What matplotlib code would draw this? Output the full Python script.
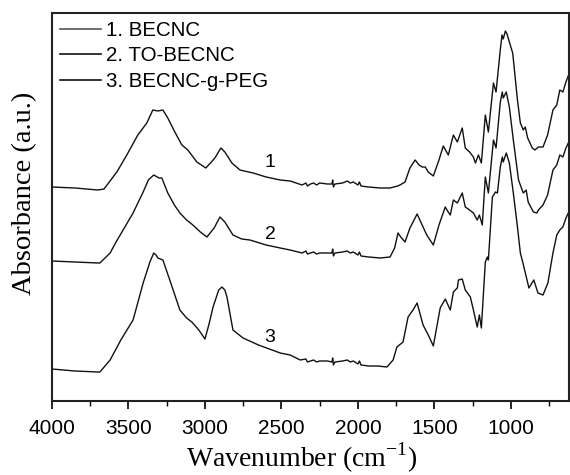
import matplotlib
matplotlib.use("Agg")
import matplotlib.pyplot as plt
from matplotlib.ticker import MultipleLocator

# ---------------- data ----------------
wn1 = [4000, 3850, 3700, 3660, 3576, 3511, 3439, 3380, 3341, 3308, 3275, 3243, 3197, 3151,
       3112, 3053, 2994, 2935, 2896, 2870, 2824, 2771, 2685, 2600, 2508, 2443, 2365, 2340,
       2330, 2310, 2290, 2270, 2250, 2200, 2170, 2165, 2160, 2150, 2100, 2070, 2050, 2030,
       2000, 1990, 1980, 1930, 1855, 1790, 1740, 1725, 1692, 1660, 1626, 1600, 1580, 1560,
       1540, 1507, 1470, 1442, 1420, 1409, 1376, 1350, 1318, 1298, 1270, 1245, 1232, 1212,
       1193, 1167, 1147, 1114, 1097, 1070, 1058, 1050, 1036, 1025, 1014, 988, 957, 938, 919,
       906, 890, 860, 843, 820, 790, 760, 725, 700, 680, 660, 640, 615, 600]
ab1 = [214, 213, 211, 212, 229, 246, 266, 278, 291, 290, 291, 283, 269, 256,
       251, 239, 233, 243, 253, 249, 238, 231, 228, 224, 221, 220, 216, 218,
       215, 217, 218, 216, 218, 217, 217, 221, 214, 217, 218, 220, 218, 219,
       216, 219, 215, 214, 213, 213, 215, 216, 219, 233, 241, 236, 234, 234,
       229, 225, 241, 255, 249, 246, 266, 259, 273, 253, 249, 244, 238, 246,
       238, 286, 269, 318, 309, 350, 366, 362, 370, 367, 361, 348, 301, 278, 271,
       274, 263, 253, 251, 254, 254, 266, 291, 296, 311, 309, 319, 329, 333]

wn2 = [4000, 3850, 3700, 3687, 3620, 3585, 3470, 3404, 3370, 3335, 3300, 3282, 3243, 3200,
       3164, 3120, 3079, 3030, 2987, 2940, 2902, 2870, 2817, 2760, 2706, 2600, 2508, 2443,
       2365, 2340, 2330, 2310, 2290, 2270, 2250, 2200, 2170, 2165, 2160, 2150, 2100, 2070,
       2050, 2030, 2000, 1990, 1980, 1930, 1855, 1790, 1760, 1738, 1720, 1692, 1660, 1613,
       1580, 1550, 1507, 1470, 1429, 1410, 1396, 1376, 1350, 1318, 1298, 1270, 1245, 1220,
       1206, 1187, 1167, 1147, 1114, 1097, 1069, 1056, 1050, 1030, 1010, 984, 950, 919, 900,
       887, 853, 830, 820, 790, 760, 725, 700, 680, 660, 640, 615, 600]
ab2 = [140, 139, 138, 138, 148, 158, 188, 209, 221, 226, 223, 223, 208, 196,
       188, 181, 176, 169, 164, 173, 184, 179, 166, 162, 161, 156, 153, 151,
       148, 150, 147, 148, 149, 147, 148, 148, 148, 152, 145, 148, 149, 150,
       148, 149, 146, 149, 145, 144, 143, 144, 153, 168, 164, 159, 173, 187,
       176, 166, 156, 176, 194, 189, 186, 201, 198, 208, 194, 191, 188, 181,
       186, 176, 224, 208, 261, 253, 299, 309, 303, 309, 294, 261, 221, 208, 211,
       199, 189, 188, 191, 196, 206, 231, 236, 246, 244, 253, 261, 264]

wn3 = [4000, 3850, 3700, 3687, 3620, 3550, 3470, 3404, 3360, 3335, 3320, 3308, 3275, 3230,
       3164, 3120, 3086, 3040, 3000, 2975, 2947, 2910, 2889, 2870, 2856, 2817, 2751, 2650,
       2508, 2443, 2377, 2340, 2330, 2310, 2290, 2270, 2250, 2200, 2170, 2165, 2160, 2150,
       2100, 2070, 2050, 2030, 2000, 1990, 1980, 1930, 1870, 1810, 1770, 1745, 1705, 1672,
       1640, 1613, 1574, 1540, 1507, 1462, 1429, 1396, 1376, 1350, 1343, 1318, 1298, 1265,
       1245, 1220, 1206, 1193, 1167, 1154, 1147, 1121, 1101, 1088, 1069, 1056, 1050, 1030,
       1010, 984, 957, 938, 921, 882, 850, 823, 790, 758, 725, 700, 680, 660, 640, 615, 600]
ab3 = [32, 30, 29, 29, 41, 61, 81, 118, 139, 148, 146, 143, 141, 121,
       91, 83, 79, 71, 62, 76, 94, 111, 114, 111, 104, 71, 63, 56,
       48, 46, 41, 42, 39, 40, 41, 39, 40, 40, 39, 43, 36, 39,
       40, 41, 39, 40, 37, 40, 36, 35, 35, 34, 41, 54, 59, 84,
       91, 98, 76, 66, 55, 93, 102, 91, 109, 113, 121, 122, 111, 104,
       91, 74, 86, 73, 139, 144, 141, 204, 209, 208, 234, 244, 239, 248,
       238, 208, 174, 148, 138, 113, 121, 108, 106, 118, 148, 166, 171, 174, 183, 191, 196]

series_labels = ["1. BECNC", "2. TO-BECNC", "3. BECNC-g-PEG"]
curve_tags = ["1", "2", "3"]
tag_wn = 2575
tag_ab = [238, 166, 63]

xticks = [4000, 3500, 3000, 2500, 2000, 1500, 1000]

# ---------------- figure ----------------
fig = plt.figure(figsize=(5.7, 4.75), dpi=100)
ax = fig.add_axes([52 / 570, 74 / 475, 517 / 570, 388 / 475])

colors = ["#555555", "#111111", "#111111"]
for wn, ab, lab in zip([wn1, wn2, wn3], [ab1, ab2, ab3], series_labels):
    ax.plot(wn, ab, color="#111111", lw=1.0, label=lab)

handles = ax.get_lines()
leg = ax.legend(handles, series_labels, loc="upper left", frameon=False,
                handlelength=2.0, handletextpad=0.25, labelspacing=0.32,
                borderpad=0.2, borderaxespad=0.18,
                prop={"family": "Liberation Sans", "size": 14.8})
for h, c in zip(leg.get_lines(), colors):
    h.set_color(c)
    h.set_linewidth(1.2)

for t, y in zip(curve_tags, tag_ab):
    ax.text(tag_wn, y, t, ha="center", va="center", fontsize=14,
            family="Liberation Sans")

ax.set_xlim(4000, 620)
ax.set_ylim(0, 388)
ax.set_xticks(xticks)
ax.set_xticklabels([str(v) for v in xticks], family="Liberation Sans", fontsize=15)
ax.xaxis.set_minor_locator(MultipleLocator(250))
ax.set_yticks([])
ax.tick_params(axis="x", which="major", direction="out", length=6, width=1.2, pad=7)
ax.tick_params(axis="x", which="minor", direction="out", length=3.5, width=1.0)
for s in ax.spines.values():
    s.set_linewidth(1.5)
    s.set_color("#222222")

ax.set_xlabel("Wavenumber (cm$^{\\mathregular{-1}}$)", family="Liberation Serif",
              fontsize=20)
ax.xaxis.set_label_coords(0.483, -0.103)
ax.set_ylabel("Absorbance (a.u.)", family="Liberation Serif", fontsize=20.5)
ax.yaxis.set_label_coords(-0.028, 0.536)

fig.savefig("out.png", dpi=100)
